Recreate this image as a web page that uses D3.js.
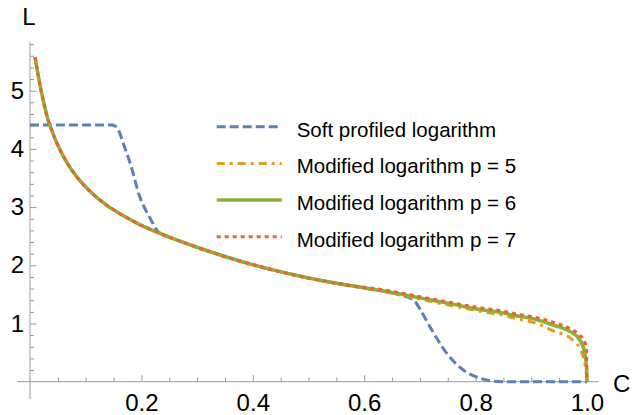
<!doctype html>
<html>
<head>
<meta charset="utf-8">
<script src="https://cdn.jsdelivr.net/npm/d3@7"></script>
<style>
  body { margin: 0; background: #fff; }
  text { font-family: 'Liberation Sans', Arial, sans-serif; fill: #000; }
</style>
</head>
<body>
<svg width="641" height="415"></svg>
<script>
// values
var softC = [0, 0.147, 0.153, 0.159, 0.168, 0.18, 0.197, 0.215, 0.23, 0.26, 0.3, 0.4, 0.5, 0.6, 0.66, 0.689, 0.703, 0.718, 0.748, 0.778, 0.808, 0.83, 0.85, 1.0];
var softL = [4.41, 4.41, 4.39, 4.32, 4.08, 3.75, 3.18, 2.82, 2.58, 2.45, 2.31, 2.01, 1.78, 1.61, 1.50, 1.40, 1.20, 0.945, 0.49, 0.20, 0.06, 0.01, 0, 0];

var modC  = [0.009, 0.014, 0.02, 0.027, 0.033, 0.039, 0.054, 0.066, 0.084, 0.108, 0.138, 0.168, 0.197, 0.233, 0.3, 0.347, 0.4, 0.467, 0.55,
             0.646, 0.7, 0.75, 0.808, 0.85, 0.88, 0.9, 0.94, 0.97, 0.987, 0.996, 0.999, 1.0];
var mod5L = [5.58, 5.30, 5.00, 4.70, 4.48, 4.32, 3.98, 3.77, 3.52, 3.27, 3.03, 2.85, 2.70, 2.55, 2.31, 2.16, 2.01, 1.85, 1.69,
             1.53, 1.42, 1.32, 1.21, 1.14, 1.07, 1.03, 0.87, 0.75, 0.57, 0.32, 0.12, 0];
var mod6L = [5.58, 5.30, 5.00, 4.70, 4.48, 4.32, 3.98, 3.77, 3.52, 3.27, 3.03, 2.85, 2.70, 2.55, 2.31, 2.16, 2.01, 1.85, 1.69,
             1.54, 1.44, 1.35, 1.24, 1.18, 1.12, 1.09, 0.97, 0.86, 0.72, 0.49, 0.25, 0];
var mod7L = [5.58, 5.30, 5.00, 4.70, 4.48, 4.32, 3.98, 3.77, 3.52, 3.27, 3.03, 2.85, 2.70, 2.55, 2.31, 2.16, 2.01, 1.85, 1.69,
             1.56, 1.46, 1.37, 1.27, 1.21, 1.15, 1.12, 1.02, 0.91, 0.80, 0.68, 0.55, 0];

var seriesNames = ["Soft profiled logarithm", "Modified logarithm p = 5", "Modified logarithm p = 6", "Modified logarithm p = 7"];
var xTicks = [0.2, 0.4, 0.6, 0.8, 1.0];
var yTicks = [1, 2, 3, 4, 5];

var svg = d3.select("svg");

var x = d3.scaleLinear().domain([0, 1]).range([30, 587]);
var y = d3.scaleLinear().domain([0, 5]).range([381.7, 90.7]);

var axisColor = "#9a9a9a";

// axis lines
svg.append("line")
  .attr("x1", x(-0.023)).attr("x2", x(1.02))
  .attr("y1", y(0)).attr("y2", y(0))
  .style("stroke", axisColor).style("stroke-width", 1);
svg.append("line")
  .attr("x1", x(0)).attr("x2", x(0))
  .attr("y1", y(-0.3)).attr("y2", y(5.84))
  .style("stroke", axisColor).style("stroke-width", 1);

// minor ticks
var xMinor = d3.range(1, 21).map(function(i){ return i * 0.05; }).filter(function(v){ return Math.abs(v*5 - Math.round(v*5)) > 1e-6; });
var yMinor = d3.range(1, 30).map(function(i){ return i * 0.2; }).filter(function(v){ return Math.abs(v - Math.round(v)) > 1e-6; });

var gx = svg.append("g").attr("transform", "translate(0," + y(0) + ")");
gx.call(d3.axisBottom(x).tickValues(xMinor).tickSizeInner(-4).tickSizeOuter(0).tickFormat(""));
var gx2 = svg.append("g").attr("transform", "translate(0," + y(0) + ")");
gx2.call(d3.axisBottom(x).tickValues(xTicks).tickSizeInner(-6.5).tickSizeOuter(0).tickPadding(12.5).tickFormat(d3.format(".1f")));

var gy = svg.append("g").attr("transform", "translate(" + x(0) + ",0)");
gy.call(d3.axisLeft(y).tickValues(yMinor).tickSizeInner(-4).tickSizeOuter(0).tickFormat(""));
var gy2 = svg.append("g").attr("transform", "translate(" + x(0) + ",0)");
gy2.call(d3.axisLeft(y).tickValues(yTicks).tickSizeInner(-6.5).tickSizeOuter(0).tickPadding(6).tickFormat(d3.format("d")));

svg.selectAll(".domain").remove();
svg.selectAll(".tick line").style("stroke", axisColor);
svg.selectAll(".tick text")
  .style("font-family", "'Liberation Sans', Arial, sans-serif")
  .style("font-size", "24px")
  .style("fill", "#000");

// axis labels
svg.append("text").attr("x", 29).attr("y", 25).attr("text-anchor", "middle")
  .style("font-size", "24px").text("L");
svg.append("text").attr("x", 613).attr("y", 391.5)
  .style("font-size", "24px").text("C");

// curves
var styles = [
  {color: "#5E81B5", width: 3,   dash: "9,4"},
  {color: "#E19C24", width: 3,   dash: "8,5,3,5"},
  {color: "#8FB032", width: 3.5, dash: null},
  {color: "#EB6235", width: 3,   dash: "4,4"}
];

var line = d3.line()
  .x(function(d){ return x(d[0]); })
  .y(function(d){ return y(d[1]); })
  .curve(d3.curveMonotoneX);

var datasets = [
  d3.zip(softC, softL),
  d3.zip(modC, mod5L),
  d3.zip(modC, mod6L),
  d3.zip(modC, mod7L)
];

datasets.forEach(function(ds, i){
  svg.append("path")
    .attr("d", line(ds))
    .style("fill", "none")
    .style("stroke", styles[i].color)
    .style("stroke-width", styles[i].width)
    .style("stroke-dasharray", styles[i].dash);
});

// legend
var legend = svg.append("g");
seriesNames.forEach(function(name, i){
  var ry = 126.7 + i * 36.7;
  legend.append("line")
    .attr("x1", 216.7).attr("x2", 281.7)
    .attr("y1", ry).attr("y2", ry)
    .style("stroke", styles[i].color)
    .style("stroke-width", styles[i].width)
    .style("stroke-dasharray", styles[i].dash);
  legend.append("text")
    .attr("x", 296.7).attr("y", ry + 10)
    .style("font-size", "20.5px")
    .text(name);
});
</script>
</body>
</html>
